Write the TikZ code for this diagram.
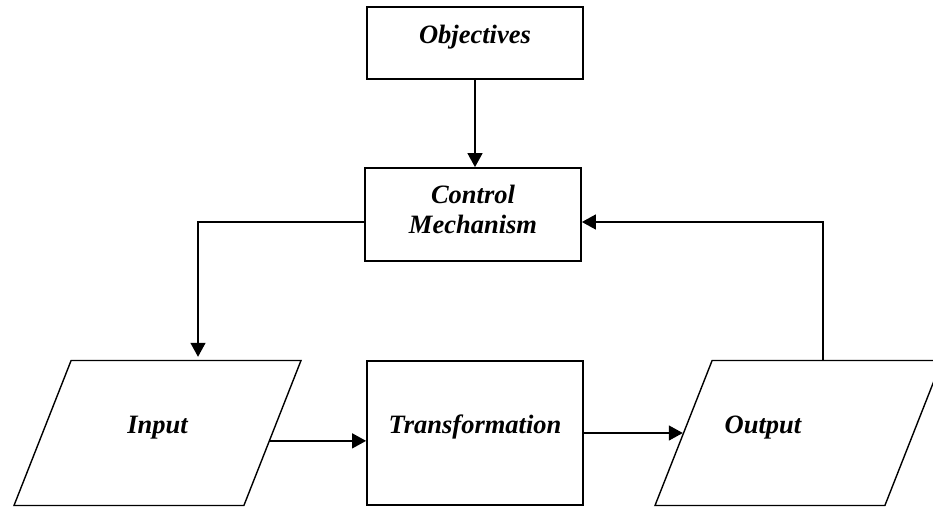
\documentclass[tikz,border=0pt]{standalone}
\usepackage{fontspec}
\setmainfont{Liberation Serif}
\usetikzlibrary{shapes.geometric,arrows.meta}

\tikzset{
  lbl/.style={font=\fontsize{26.5}{30}\selectfont\bfseries\itshape, text height=10pt, text depth=10pt, inner sep=0pt},
  box/.style={lbl, draw, line width=1.8pt, minimum width=216pt},
  slanted/.style={lbl, draw, line width=1.4pt, trapezium, trapezium left angle=68.5,
    trapezium right angle=111.5, trapezium stretches body=true,
    text height=72.5pt, text depth=72.5pt, minimum width=287pt},
  arr/.style={line width=1.4pt, -{Triangle[length=14pt,width=15pt]}}
}

\begin{document}
\begin{tikzpicture}[x=1pt,y=-1pt]
  \clip (0,0) rectangle (933,506);

  % process blocks
  \node[box, minimum height=72pt] (obj) at (475,43) {Objectives};
  \node[box, minimum height=93pt, align=center, text height=47pt, text depth=10pt] (ctrl) at (473,214.5) {Control\\Mechanism};
  \node[box, minimum height=144pt] (trans) at (475,433) {Transformation};

  % input and output
  \node[slanted] (input) at (157.5,433) {Input};
  \node[slanted] (output) at (798.5,433) {};
  \node[lbl] (outlbl) at (763,433) {Output};

  % connectors
  \draw[arr] (obj.south) -- (obj.south |- ctrl.north);
  \draw[arr, shorten >=3pt] ([yshift=-7.5pt]ctrl.west) -| ([xshift=40.5pt]input.north);
  \draw[arr] (input.-4) -- (input.-4 -| trans.west);
  \draw[arr] (trans.east) -- (output.west);
  \draw[arr] ([xshift=24.5pt]output.north) |- ([yshift=-7.5pt]ctrl.east);
\end{tikzpicture}
\end{document}
